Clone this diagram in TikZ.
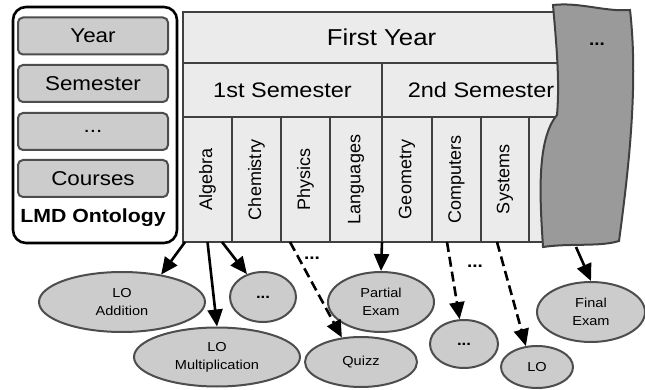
\documentclass[tikz,border=0pt]{standalone}
\usepackage{fontspec}
\setmainfont{Liberation Sans}[FakeStretch=1.12]
\newfontfamily\rotfont{Liberation Sans}
\usetikzlibrary{arrows.meta,shapes.geometric}
\definecolor{cellfill}{HTML}{EBEBEB}
\definecolor{cellline}{HTML}{404040}
\definecolor{ovalfill}{HTML}{CCCCCC}
\definecolor{ovalline}{HTML}{4D4D4D}
\definecolor{wavefill}{HTML}{9A9A9A}
\begin{document}
\begin{tikzpicture}[x=1pt,y=-1pt,
  cell/.style={draw=cellline,fill=cellfill,line width=2pt,inner sep=0pt,outer sep=0pt,
    font=\fontsize{21}{25}\selectfont},
  collabel/.style={rotate=90,inner sep=0pt,font=\rotfont\fontsize{18}{20}\selectfont},
  ontobox/.style={draw=ovalline,fill=ovalfill,line width=2pt,rounded corners=5pt,
    minimum width=150pt,minimum height=37pt,inner sep=0pt,font=\fontsize{20}{24}\selectfont},
  oval/.style={ellipse,draw=ovalline,fill=ovalfill,line width=2pt,inner sep=0pt,
    align=center,font=\fontsize{13}{18}\selectfont},
  arr/.style={line width=2.6pt,-{Triangle[length=17pt,width=15pt]}},
  darr/.style={arr,dash pattern=on 10pt off 5pt},
  dots/.style={inner sep=0pt,font=\bfseries\fontsize{17}{18}\selectfont}
]
\useasboundingbox (0,0) rectangle (645,390);

% LMD ontology box
\node[draw=black,line width=2.6pt,rounded corners=13pt,fill=white,
  minimum width=164pt,minimum height=236pt,inner sep=0pt] (onto) at (95,125) {};
\node[ontobox] (oyear) at (93,36) {Year};
\node[ontobox] (osem) at (93,83.5) {Semester};
\node[ontobox] (odots) at (93,131.5) {...};
\node[ontobox] (ocourse) at (93,178.5) {Courses};
\node[inner sep=0pt,font=\bfseries\fontsize{19}{22}\selectfont] (olabel) at (93,218) {LMD Ontology};

% table
\node[cell,minimum width=397pt,minimum height=51pt,font=\fontsize{23}{26}\selectfont] (fy) at (381.5,37.5) {First Year};
\node[cell,minimum width=199pt,minimum height=54pt] (s1) at (282.5,90) {1st Semester};
\node[cell,minimum width=198pt,minimum height=54pt] (s2) at (481,90) {2nd Semester};
\node[cell,minimum width=49pt,minimum height=125pt] (alg) at (207.5,179.5) {};
\node[cell,minimum width=49pt,minimum height=125pt] (chem) at (256.5,179.5) {};
\node[cell,minimum width=49pt,minimum height=125pt] (phy) at (305.5,179.5) {};
\node[cell,minimum width=52pt,minimum height=125pt] (lang) at (356,179.5) {};
\node[cell,minimum width=50pt,minimum height=125pt] (geo) at (407,179.5) {};
\node[cell,minimum width=49pt,minimum height=125pt] (comp) at (456.5,179.5) {};
\node[cell,minimum width=48pt,minimum height=125pt] (sys) at (505,179.5) {};
\node[cell,minimum width=51pt,minimum height=125pt] (last) at (554.5,179.5) {};
\node[collabel] (talg) at (alg.center) {Algebra};
\node[collabel] (tchem) at (chem.center) {Chemistry};
\node[collabel] (tphy) at (phy.center) {Physics};
\node[collabel] (tlang) at (lang.center) {Languages};
\node[collabel] (tgeo) at (geo.center) {Geometry};
\node[collabel] (tcomp) at (comp.center) {Computers};
\node[collabel] (tsys) at (sys.center) {Systems};

% wavy gray shape
\draw[draw=cellline,fill=wavefill,line width=2pt]
  (553,5) .. controls (580,2) and (605,12) .. (630,10)
  .. controls (638,80) and (630,160) .. (619,241)
  .. controls (600,247) and (570,243) .. (543,247)
  .. controls (540,200) and (536,140) .. (557,115)
  .. controls (560,80) and (556,40) .. (553,5) -- cycle;
\node[dots] (wdots) at (597,44) {...};
\coordinate (wbot) at (576,247);

% learning objects
\node[oval,minimum width=166pt,minimum height=60pt] (loadd) at (122,302) {LO\\Addition};
\node[oval,minimum width=166pt,minimum height=59pt] (lomul) at (217,357) {LO\\Multiplication};
\node[oval,minimum width=66pt,minimum height=50pt,font=\bfseries\fontsize{15}{16}\selectfont] (dots1) at (263,297) {...};
\node[oval,minimum width=106pt,minimum height=60pt] (pexam) at (381,302) {Partial\\Exam};
\node[oval,minimum width=112pt,minimum height=50pt] (quizz) at (361,362) {Quizz};
\node[oval,minimum width=68pt,minimum height=48pt,font=\bfseries\fontsize{15}{16}\selectfont] (dots2) at (464,344) {...};
\node[oval,minimum width=72pt,minimum height=42pt] (lo) at (537,367) {LO};
\node[oval,minimum width=108pt,minimum height=60pt] (fexam) at (591,312) {Final\\Exam};

% connectors
\draw[arr] ([xshift=2pt]alg.south west) -- (loadd.35);
\draw[arr] (alg.south) -- (lomul.north);
\draw[arr] ([xshift=-10pt]alg.south east) -- (dots1.125);
\draw[darr] ([xshift=9pt]phy.south west) -- (quizz.128);
\draw[arr] (lang.south east) -- (pexam.north);
\draw[darr] ([xshift=15pt]comp.south west) -- (dots2.100);
\draw[darr] ([xshift=16pt]sys.south west) -- (lo.118);
\draw[arr] (wbot) -- (fexam.north);

\node[dots] (d1) at (312,258) {...};
\node[dots] (d2) at (475,266) {...};
\end{tikzpicture}
\end{document}
